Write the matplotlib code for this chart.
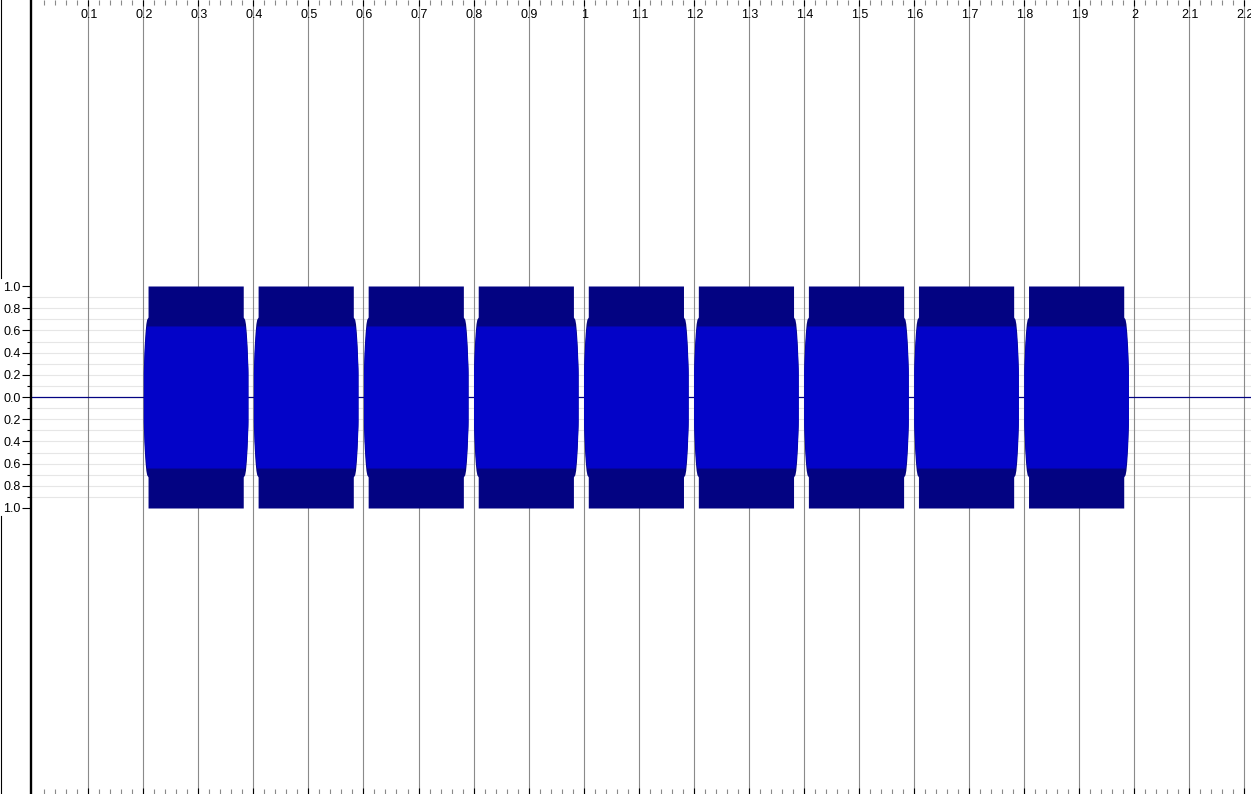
import matplotlib
matplotlib.use("Agg")
import matplotlib.pyplot as plt
from matplotlib.lines import Line2D
from matplotlib.ticker import FixedLocator, FixedFormatter
from matplotlib.transforms import blended_transform_factory

plt.rcParams["font.family"] = ["Liberation Sans", "DejaVu Sans"]

# --- data ----------------------------------------------------------------
# tone bursts: start / end time (s)
burst_start = [0.20, 0.40, 0.60, 0.80, 1.00, 1.20, 1.40, 1.60, 1.80]
burst_end = [0.390, 0.590, 0.790, 0.990, 1.190, 1.390, 1.590, 1.790, 1.990]
peak_level = 1.0
rms_level = 0.64

# edge taper of each burst (seconds in from the outer edge -> amplitude)
edge_dt = [0.0, 0.0, 0.0015, 0.003, 0.0045, 0.006, 0.0085]
edge_rms = [0.0, 0.22, 0.40, 0.52, 0.60, 0.64, 0.64]
edge_peak = [0.0, 0.26, 0.46, 0.58, 0.66, 0.70, 0.72]

# rulers
x_major = [0.1, 0.2, 0.3, 0.4, 0.5, 0.6, 0.7, 0.8, 0.9, 1.0, 1.1,
           1.2, 1.3, 1.4, 1.5, 1.6, 1.7, 1.8, 1.9, 2.0, 2.1, 2.2]
x_labels = ["0.1", "0.2", "0.3", "0.4", "0.5", "0.6", "0.7", "0.8", "0.9", "1",
            "1.1", "1.2", "1.3", "1.4", "1.5", "1.6", "1.7", "1.8", "1.9", "2",
            "2.1", "2.2"]
y_major = [1.0, 0.8, 0.6, 0.4, 0.2, 0.0, -0.2, -0.4, -0.6, -0.8, -1.0]
y_labels = ["1.0", "0.8", "0.6", "0.4", "0.2", "0.0", "0.2", "0.4", "0.6", "0.8", "1.0"]
y_minor = [0.9, 0.7, 0.5, 0.3, 0.1, -0.1, -0.3, -0.5, -0.7, -0.9]

DARK = "#030382"
LIGHT = "#0303c8"

W, H = 1251, 794
fig = plt.figure(figsize=(W / 100, H / 100), dpi=100)
left_px = 31
ax = fig.add_axes([left_px / W, 0, 1 - left_px / W, 1])

px_per_s = 550.3
t0_px = 33.3
ax.set_xlim((left_px - t0_px) / px_per_s, (W - t0_px) / px_per_s)
amp_px = 111.0
ax.set_ylim(-(H / 2) / amp_px, (H / 2) / amp_px)


def burst_outline(t0, t1, prof, body):
    xs = [t0 + d for d in edge_dt]
    ys = list(prof)
    if body is not None:
        xs += [t0 + edge_dt[-1], t1 - edge_dt[-1]]
        ys += [body, body]
    xs += [t1 - d for d in reversed(edge_dt)]
    ys += list(reversed(prof))
    return xs, ys


for t0, t1 in zip(burst_start, burst_end):
    xs, ys = burst_outline(t0, t1, edge_peak, peak_level)
    ax.fill_between(xs, [-v for v in ys], ys, color=DARK, lw=0, zorder=3)
    xs, ys = burst_outline(t0, t1, edge_rms, None)
    ax.fill_between(xs, [-v for v in ys], ys, color=LIGHT, lw=0, zorder=4)

# zero line
ax.axhline(0, color=DARK, lw=0.9, zorder=2)

# light horizontal grid at every 0.1
for y in y_minor + [0.8, 0.6, 0.4, 0.2, -0.2, -0.4, -0.6, -0.8]:
    ax.axhline(y, color="#e6e6e6", lw=0.8, zorder=0.5)

# vertical grid
for x in x_major:
    ax.axvline(x, color="#8a8a8a", lw=0.8, zorder=1)

# x ruler (top and bottom ticks, labels inside at top)
ax.xaxis.set_major_locator(FixedLocator(x_major))
ax.xaxis.set_minor_locator(FixedLocator(
    [round(0.02 * i, 2) for i in range(1, 111)]))
ax.tick_params(axis="x", which="both", direction="in", top=True, bottom=True,
               labelbottom=False, labeltop=False)
ax.tick_params(axis="x", which="major", length=4.5, width=0.8, color="black")
ax.tick_params(axis="x", which="minor", length=3.8, width=0.8, color="#8a8a8a")

trans = blended_transform_factory(ax.transData, ax.transAxes)
for x, lab in zip(x_major, x_labels):
    ax.text(x + 1.0 / px_per_s, 1 - 9 / H, lab, transform=trans,
            ha="center", va="top", fontsize=9, color="black", zorder=6)

# y ruler
ax.yaxis.set_major_locator(FixedLocator(y_major))
ax.yaxis.set_major_formatter(FixedFormatter(y_labels))
ax.yaxis.set_minor_locator(FixedLocator(y_minor))
ax.tick_params(axis="y", which="major", direction="out", length=6.5, width=0.8,
               pad=1.0, labelsize=9, color="black")
ax.tick_params(axis="y", which="minor", direction="out", length=3, width=0.8,
               color="black")

for side in ("top", "right", "bottom"):
    ax.spines[side].set_visible(False)
ax.spines["left"].set_linewidth(1.7)
ax.spines["left"].set_color("black")

# thin border at the far left edge (outside the vertical ruler)
fig.add_artist(Line2D([0.5 / W, 0.5 / W], [1 - 278 / H, 1], color="black", lw=0.8))
fig.add_artist(Line2D([0.5 / W, 0.5 / W], [0, 1 - 516 / H], color="black", lw=0.8))

fig.savefig("out.png", dpi=100)
